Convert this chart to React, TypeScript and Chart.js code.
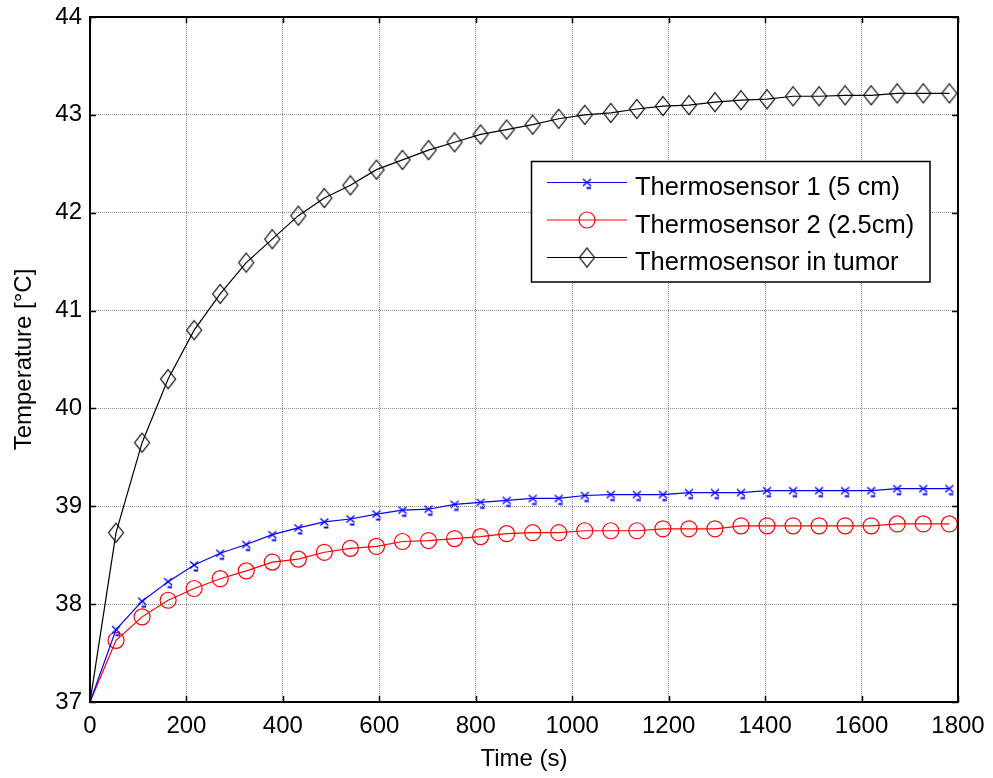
import React, { useEffect, useRef } from "react";
import { Chart, registerables } from "chart.js";

Chart.register(...registerables);

// ---- data ----
const timeSeconds = [
  0, 54, 108, 162, 216, 270, 324, 378, 432, 486, 540, 594, 648, 702, 756, 810, 864,
  918, 972, 1026, 1080, 1134, 1188, 1242, 1296, 1350, 1404, 1458, 1512, 1566, 1620,
  1674, 1728, 1782,
];
const sensor1 = [
  37.0, 37.74, 38.03, 38.23, 38.4, 38.52, 38.61, 38.71, 38.78, 38.84, 38.87, 38.92,
  38.96, 38.97, 39.02, 39.04, 39.06, 39.08, 39.08, 39.11, 39.12, 39.12, 39.12, 39.14,
  39.14, 39.14, 39.16, 39.16, 39.16, 39.16, 39.16, 39.18, 39.18, 39.18,
];
const sensor2 = [
  37.0, 37.63, 37.87, 38.04, 38.16, 38.26, 38.34, 38.43, 38.46, 38.53, 38.57, 38.59,
  38.64, 38.65, 38.67, 38.69, 38.72, 38.73, 38.73, 38.75, 38.75, 38.75, 38.77, 38.77,
  38.77, 38.8, 38.8, 38.8, 38.8, 38.8, 38.8, 38.82, 38.82, 38.82,
];
const tumor = [
  37.0, 38.73, 39.65, 40.3, 40.8, 41.17, 41.49, 41.73, 41.97, 42.15, 42.28, 42.44,
  42.54, 42.64, 42.72, 42.8, 42.85, 42.9, 42.96, 43.0, 43.02, 43.06, 43.09, 43.1,
  43.13, 43.15, 43.16, 43.19, 43.19, 43.2, 43.2, 43.22, 43.22, 43.22,
];
const xTicks = [0, 200, 400, 600, 800, 1000, 1200, 1400, 1600, 1800];
const yTicks = [37, 38, 39, 40, 41, 42, 43, 44];
const seriesLabels = [
  "Thermosensor 1 (5 cm)",
  "Thermosensor 2 (2.5cm)",
  "Thermosensor in tumor",
];
const xTitle = "Time (s)";
const yTitle = "Temperature [°C]";

const FONT = '"Liberation Sans", Arial, Helvetica, sans-serif';

function makeXMark(color: string): HTMLCanvasElement {
  const c = document.createElement("canvas");
  c.width = 14;
  c.height = 18;
  const g = c.getContext("2d")!;
  g.strokeStyle = color;
  g.lineWidth = 1.4;
  g.beginPath();
  g.moveTo(3, 5.5);
  g.lineTo(11, 12.5);
  g.moveTo(11, 5.5);
  g.lineTo(3, 12.5);
  g.stroke();
  g.lineWidth = 2;
  g.beginPath();
  g.moveTo(6.5, 14.5);
  g.lineTo(11, 14.5);
  g.stroke();
  return c;
}

function makeDiamond(color: string): HTMLCanvasElement {
  const c = document.createElement("canvas");
  c.width = 18;
  c.height = 22;
  const g = c.getContext("2d")!;
  g.strokeStyle = color;
  g.lineWidth = 1.2;
  g.beginPath();
  g.moveTo(9, 1.5);
  g.lineTo(16.5, 11);
  g.lineTo(9, 20.5);
  g.lineTo(1.5, 11);
  g.closePath();
  g.stroke();
  return c;
}

export default function App() {
  const ref = useRef<HTMLCanvasElement>(null);

  useEffect(() => {
    const canvas = ref.current;
    if (!canvas) return;
    const xMark = makeXMark("#0000ff");
    const diamond = makeDiamond("#000000");

    const boxPlugin = {
      id: "matlabBox",
      afterDatasetsDraw(chart: any) {
        const { ctx, chartArea: a, scales } = chart;
        ctx.save();
        ctx.strokeStyle = "#000";
        ctx.lineWidth = 1.5;
        ctx.beginPath();
        for (const t of scales.x.ticks) {
          const px = Math.round(scales.x.getPixelForValue(t.value)) + 0.5;
          ctx.moveTo(px, a.bottom);
          ctx.lineTo(px, a.bottom - 6);
          ctx.moveTo(px, a.top);
          ctx.lineTo(px, a.top + 6);
        }
        for (const t of scales.y.ticks) {
          const py = Math.round(scales.y.getPixelForValue(t.value)) + 0.5;
          ctx.moveTo(a.left, py);
          ctx.lineTo(a.left + 6, py);
          ctx.moveTo(a.right, py);
          ctx.lineTo(a.right - 6, py);
        }
        ctx.stroke();
        ctx.lineWidth = 2;
        ctx.strokeRect(a.left, a.top, a.right - a.left, a.bottom - a.top);
        ctx.restore();
      },
    };

    const legendPlugin = {
      id: "matlabLegend",
      afterDraw(chart: any) {
        const { ctx } = chart;
        const left = 531.5;
        const top = 161.5;
        const right = 930;
        const bottom = 282;
        ctx.save();
        ctx.fillStyle = "#fff";
        ctx.fillRect(left, top, right - left, bottom - top);
        ctx.strokeStyle = "#000";
        ctx.lineWidth = 1.5;
        ctx.strokeRect(left, top, right - left, bottom - top);
        const baselines = [195, 232.5, 270];
        chart.data.datasets.forEach((ds: any, i: number) => {
          const by = baselines[i];
          const sy = by - 12.5;
          ctx.strokeStyle = ds.borderColor;
          ctx.lineWidth = 1.2;
          ctx.beginPath();
          ctx.moveTo(547, sy);
          ctx.lineTo(627, sy);
          ctx.stroke();
          const mx = 587;
          if (i === 0) {
            ctx.drawImage(xMark, mx - xMark.width / 2, sy - xMark.height / 2);
          } else if (i === 1) {
            ctx.beginPath();
            ctx.arc(mx, sy, 8, 0, Math.PI * 2);
            ctx.stroke();
          } else {
            ctx.drawImage(diamond, mx - diamond.width / 2, sy - diamond.height / 2);
          }
          ctx.fillStyle = "#000";
          ctx.font = `25.5px ${FONT}`;
          ctx.textBaseline = "alphabetic";
          ctx.textAlign = "left";
          ctx.fillText(ds.label, 635, by);
        });
        ctx.restore();
      },
    };

    const chart = new Chart(canvas, {
      type: "line",
      data: {
        datasets: [
          {
            label: seriesLabels[0],
            data: timeSeconds.map((t, i) => ({ x: t, y: sensor1[i] })),
            borderColor: "#0000ff",
            borderWidth: 1.2,
            pointStyle: xMark as any,
            pointRadius: (c: any) => (c.dataIndex === 0 ? 0 : 6),
            pointBorderColor: "#0000ff",
            pointBackgroundColor: "transparent",
            fill: false,
          },
          {
            label: seriesLabels[1],
            data: timeSeconds.map((t, i) => ({ x: t, y: sensor2[i] })),
            borderColor: "#ff0000",
            borderWidth: 1.2,
            pointStyle: "circle",
            pointRadius: (c: any) => (c.dataIndex === 0 ? 0 : 8),
            pointBorderWidth: 1.2,
            pointBorderColor: "#ff0000",
            pointBackgroundColor: "transparent",
            fill: false,
          },
          {
            label: seriesLabels[2],
            data: timeSeconds.map((t, i) => ({ x: t, y: tumor[i] })),
            borderColor: "#000000",
            borderWidth: 1.2,
            pointStyle: diamond as any,
            pointRadius: (c: any) => (c.dataIndex === 0 ? 0 : 9),
            pointBorderColor: "#000000",
            pointBackgroundColor: "transparent",
            fill: false,
          },
        ],
      },
      options: {
        animation: false,
        responsive: false,
        events: [],
        layout: { padding: { top: 17, right: 35, left: 0, bottom: 0 } },
        elements: { line: { tension: 0 } },
        plugins: { legend: { display: false }, tooltip: { enabled: false } },
        scales: {
          x: {
            type: "linear",
            min: 0,
            max: 1800,
            afterBuildTicks: (s: any) => {
              s.ticks = xTicks.map((v) => ({ value: v }));
            },
            afterFit: (s: any) => {
              s.height = 76;
              s.paddingLeft = 0;
              s.paddingRight = 0;
              s.paddingTop = 0;
              s.paddingBottom = 0;
            },
            grid: { color: "rgba(0,0,0,0.45)", lineWidth: 1, drawTicks: false },
            border: { display: false, dash: [1, 1] },
            ticks: {
              font: { family: FONT, size: 24 },
              color: "#000",
              padding: 10,
              maxRotation: 0,
              autoSkip: false,
              callback: (v: any) => String(v),
            },
            title: {
              display: true,
              text: xTitle,
              font: { family: FONT, size: 24 },
              color: "#000",
              padding: { top: 0, bottom: 4 },
            },
          },
          y: {
            type: "linear",
            min: 37,
            max: 44,
            afterBuildTicks: (s: any) => {
              s.ticks = yTicks.map((v) => ({ value: v }));
            },
            afterFit: (s: any) => {
              s.width = 90;
              s.paddingLeft = 0;
              s.paddingRight = 0;
              s.paddingTop = 0;
              s.paddingBottom = 0;
            },
            grid: { color: "rgba(0,0,0,0.45)", lineWidth: 1, drawTicks: false },
            border: { display: false, dash: [1, 1] },
            ticks: {
              font: { family: FONT, size: 24 },
              color: "#000",
              padding: 8,
              autoSkip: false,
              callback: (v: any) => String(v),
            },
            title: {
              display: true,
              text: yTitle,
              font: { family: FONT, size: 24 },
              color: "#000",
              padding: { top: 10, bottom: 0 },
            },
          },
        },
      },
      plugins: [boxPlugin, legendPlugin],
    });
    return () => chart.destroy();
  }, []);

  return (
    <div
      style={{
        position: "fixed",
        left: 0,
        top: 0,
        width: 993,
        height: 778,
        background: "#fff",
      }}
    >
      <canvas ref={ref} width={993} height={778} style={{ display: "block" }} />
    </div>
  );
}
